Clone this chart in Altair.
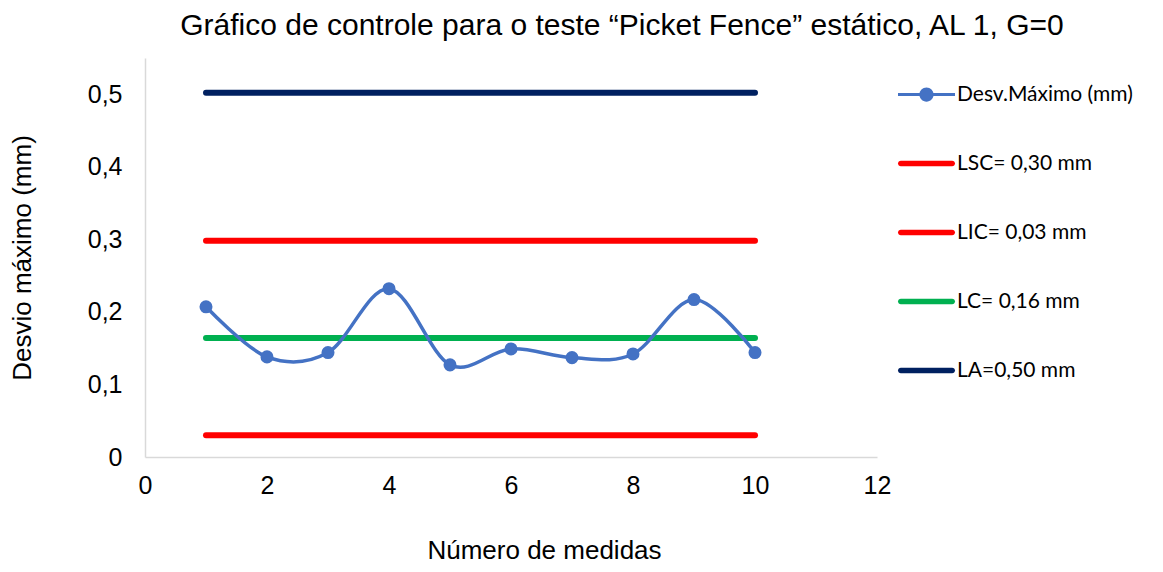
import altair as alt
import pandas as pd

# ---- data ----
x_vals = [1, 2, 3, 4, 5, 6, 7, 8, 9, 10]
desv_vals = [0.207, 0.138, 0.144, 0.232, 0.127, 0.149, 0.137, 0.142, 0.217, 0.144]
desv_name = "Desv.Máximo (mm)"
ref_names = ["LSC= 0,30 mm", "LIC= 0,03 mm", "LC= 0,16 mm", "LA=0,50 mm"]
ref_values = [0.298, 0.030, 0.164, 0.502]
ref_start = 1
ref_end = 10
series_names = [desv_name] + ref_names
series_colors = ["#4472C4", "#FF0000", "#FF0000", "#00B050", "#002060"]
x_ticks = [0, 2, 4, 6, 8, 10, 12]
y_ticks = [0, 0.1, 0.2, 0.3, 0.4, 0.5]

desv_df = pd.DataFrame({"x": x_vals, "y": desv_vals, "series": desv_name})
ref_df = pd.DataFrame({"series": ref_names, "y": ref_values,
                       "x": ref_start, "x2": ref_end})
legend_df = pd.DataFrame({"series": series_names,
                          "x": [x_vals[0]] + [ref_start] * len(ref_names),
                          "y": [desv_vals[0]] + ref_values})

# legend symbol paths (unit coords, scaled by sqrt(size)/2)
desv_path = ("M-1,-0.05H1V0.05H-1Z "
             "M0.25,0A0.25,0.25 0 1,1 -0.25,0A0.25,0.25 0 1,1 0.25,0Z")
bar_path = ("M-0.9,-0.1H0.9A0.1,0.1 0 0,1 0.9,0.1H-0.9A0.1,0.1 0 0,1 -0.9,-0.1Z")
shape_range = [desv_path] + [bar_path] * len(ref_names)

color_scale = alt.Scale(domain=series_names, range=series_colors)
x_scale = alt.Scale(domain=[0, 12], nice=False, zero=False)
y_scale = alt.Scale(domain=[0, 0.55], nice=False)

x_axis = alt.Axis(values=x_ticks, format="d", title="Número de medidas", grid=False,
                  ticks=False, tickSize=0, domainColor="#d9d9d9", domainWidth=1.5,
                  labelFlush=False,
                  labelFont="Liberation Sans", labelFontSize=25, labelColor="#000000",
                  labelPadding=16, titleFont="Liberation Sans", titleFontSize=26,
                  titleFontWeight="normal", titleColor="#000000",
                  titleX=399, titleY=93, titleBaseline="middle", titleAlign="center")
y_axis = alt.Axis(values=y_ticks, title="Desvio máximo (mm)", grid=False, ticks=False,
                  tickSize=0, domainColor="#d9d9d9", domainWidth=1.5,
                  labelFlush=False,
                  labelExpr="replace(format(datum.value, '.1~f'), '.', ',')",
                  labelFont="Liberation Sans", labelFontSize=25, labelColor="#000000",
                  labelPadding=23, titleFont="Liberation Sans", titleFontSize=26,
                  titleFontWeight="normal", titleColor="#000000",
                  titleX=-123, titleY=199.5, titleBaseline="middle", titleAlign="center",
                  titleAngle=270)

legend_spec = alt.Legend(title=None, orient="none", legendX=753, legendY=8,
                         symbolSize=3249, symbolStrokeWidth=0,
                         labelFont="Lato", labelFontSize=21, labelLimit=400,
                         labelColor="#000000", labelOffset=2,
                         rowPadding=30, symbolOpacity=1)

rules = alt.Chart(ref_df).mark_rule(strokeWidth=6, strokeCap="round").encode(
    x=alt.X("x:Q", scale=x_scale, axis=x_axis),
    x2="x2:Q",
    y=alt.Y("y:Q", scale=y_scale, axis=y_axis),
    color=alt.Color("series:N", scale=color_scale, legend=None),
)

line = alt.Chart(desv_df).mark_line(interpolate="cardinal", strokeWidth=3.5).encode(
    x=alt.X("x:Q", scale=x_scale),
    y=alt.Y("y:Q", scale=y_scale),
    color=alt.Color("series:N", scale=color_scale, legend=None),
)

points = alt.Chart(desv_df).mark_circle(size=170, opacity=1).encode(
    x=alt.X("x:Q", scale=x_scale),
    y=alt.Y("y:Q", scale=y_scale),
    color=alt.Color("series:N", scale=color_scale, legend=None),
)

legend_layer = alt.Chart(legend_df).mark_point(filled=True, opacity=0).encode(
    x=alt.X("x:Q", scale=x_scale),
    y=alt.Y("y:Q", scale=y_scale),
    color=alt.Color("series:N", scale=color_scale, legend=legend_spec),
    shape=alt.Shape("series:N", scale=alt.Scale(domain=series_names, range=shape_range),
                    legend=legend_spec),
)

chart = alt.layer(rules, line, points, legend_layer).resolve_legend(
    color="independent", shape="independent"
).properties(
    width=732, height=399,
    autosize=alt.AutoSizeParams(type="none"),
    padding={"left": 137, "top": 50, "right": 278, "bottom": 107},
    title=alt.TitleParams(
        "Gráfico de controle para o teste “Picket Fence” estático, AL 1, G=0",
        font="Liberation Sans", fontSize=30, fontWeight="normal", color="#000000",
        anchor="middle", dx=111, offset=-7, baseline="alphabetic"),
).configure_view(stroke=None)

chart.save("out.html", embed_options={"renderer": "svg", "actions": False})
